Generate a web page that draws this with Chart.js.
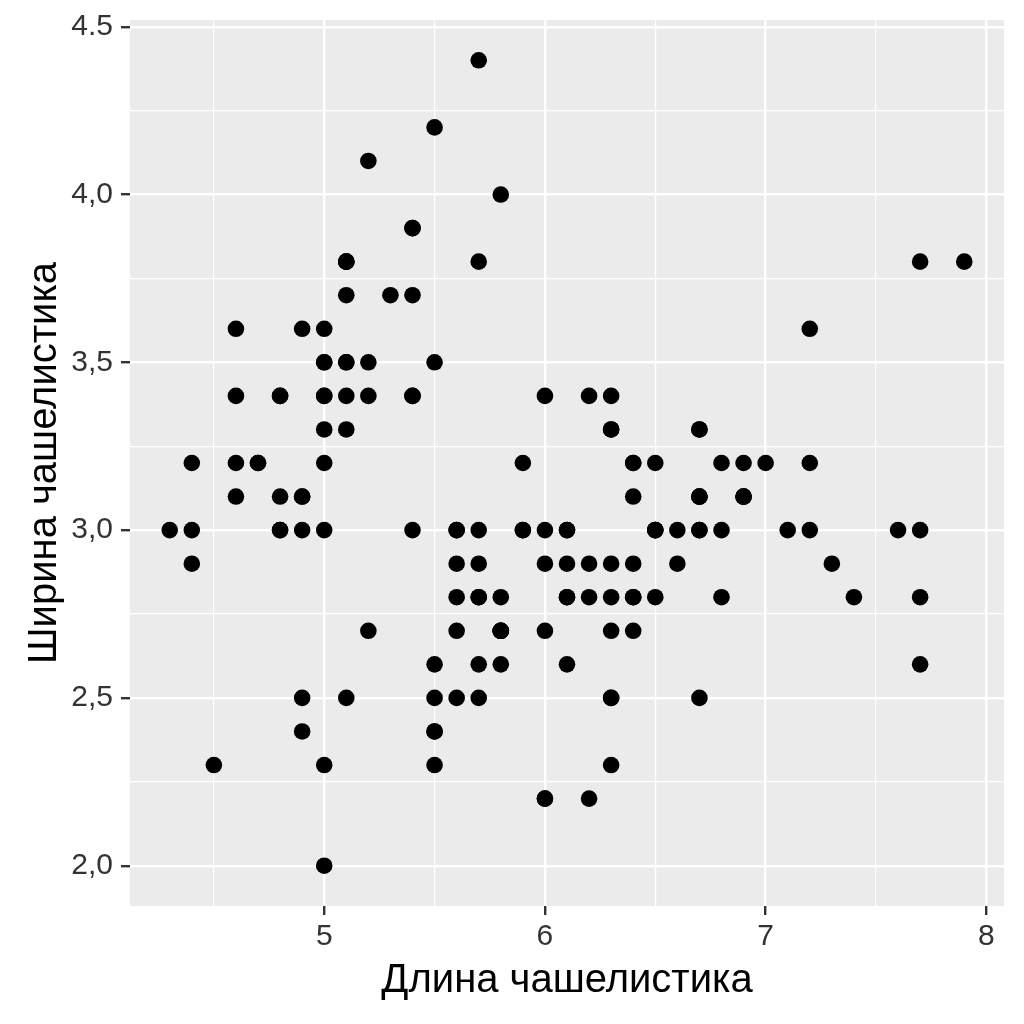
<!DOCTYPE html>
<html>
<head>
<meta charset="utf-8">
<script src="https://cdn.jsdelivr.net/npm/chart.js@4"></script>
<style>
  html, body { margin: 0; padding: 0; background: #fff; }
  #wrap { width: 1024px; height: 1024px; }
</style>
</head>
<body>
<div id="wrap"><canvas id="chart" width="1024" height="1024"></canvas></div>
<script>
// Sepal length / width (overlapping points drawn on top of each other)
const sepalLength = [
  5.1, 4.9, 4.7, 4.6, 5.0, 5.4, 4.6, 5.0, 4.4, 4.9, 5.4, 4.8, 4.8, 4.3, 5.8, 5.7, 5.4, 5.1, 5.7, 5.1,
  5.4, 5.1, 4.6, 5.1, 4.8, 5.0, 5.0, 5.2, 5.2, 4.7, 4.8, 5.4, 5.2, 5.5, 4.9, 5.0, 5.5, 4.9, 4.4, 5.1,
  5.0, 4.5, 4.4, 5.0, 5.1, 4.8, 5.1, 4.6, 5.3, 5.0,
  7.0, 6.4, 6.9, 5.5, 6.5, 5.7, 6.3, 4.9, 6.6, 5.2, 5.0, 5.9, 6.0, 6.1, 5.6, 6.7, 5.6, 5.8, 6.2, 5.6,
  5.9, 6.1, 6.3, 6.1, 6.4, 6.6, 6.8, 6.7, 6.0, 5.7, 5.5, 5.5, 5.8, 6.0, 5.4, 6.0, 6.7, 6.3, 5.6, 5.5,
  5.5, 6.1, 5.8, 5.0, 5.6, 5.7, 5.7, 6.2, 5.1, 5.7,
  6.3, 5.8, 7.1, 6.3, 6.5, 7.6, 4.9, 7.3, 6.7, 7.2, 6.5, 6.4, 6.8, 5.7, 5.8, 6.4, 6.5, 7.7, 7.7, 6.0,
  6.9, 5.6, 7.7, 6.3, 6.7, 7.2, 6.2, 6.1, 6.4, 7.2, 7.4, 7.9, 6.4, 6.3, 6.1, 7.7, 6.3, 6.4, 6.0, 6.9,
  6.7, 6.9, 5.8, 6.8, 6.7, 6.7, 6.3, 6.5, 6.2, 5.9
];
const sepalWidth = [
  3.5, 3.0, 3.2, 3.1, 3.6, 3.9, 3.4, 3.4, 2.9, 3.1, 3.7, 3.4, 3.0, 3.0, 4.0, 4.4, 3.9, 3.5, 3.8, 3.8,
  3.4, 3.7, 3.6, 3.3, 3.4, 3.0, 3.4, 3.5, 3.4, 3.2, 3.1, 3.4, 4.1, 4.2, 3.1, 3.2, 3.5, 3.6, 3.0, 3.4,
  3.5, 2.3, 3.2, 3.5, 3.8, 3.0, 3.8, 3.2, 3.7, 3.3,
  3.2, 3.2, 3.1, 2.3, 2.8, 2.8, 3.3, 2.4, 2.9, 2.7, 2.0, 3.0, 2.2, 2.9, 2.9, 3.1, 3.0, 2.7, 2.2, 2.5,
  3.2, 2.8, 2.5, 2.8, 2.9, 3.0, 2.8, 3.0, 2.9, 2.6, 2.4, 2.4, 2.7, 2.7, 3.0, 3.4, 3.1, 2.3, 3.0, 2.5,
  2.6, 3.0, 2.6, 2.3, 2.7, 3.0, 2.9, 2.9, 2.5, 2.8,
  3.3, 2.7, 3.0, 2.9, 3.0, 3.0, 2.5, 2.9, 2.5, 3.6, 3.2, 2.7, 3.0, 2.5, 2.8, 3.2, 3.0, 3.8, 2.6, 2.2,
  3.2, 2.8, 2.8, 2.7, 3.3, 3.2, 2.8, 3.0, 2.8, 3.0, 2.8, 3.8, 2.8, 2.8, 2.6, 3.0, 3.4, 3.1, 3.0, 3.1,
  3.1, 3.1, 2.7, 3.2, 3.3, 3.0, 2.5, 3.0, 3.4, 3.0
];

// Axis ticks (major gets a label, minor is just a thin grid line)
const xMajorTicks = [5, 6, 7, 8];
const xMajorLabels = ['5', '6', '7', '8'];
const xMinorTicks = [4.5, 5.5, 6.5, 7.5];
const yMajorTicks = [2.0, 2.5, 3.0, 3.5, 4.0, 4.5];
const yMajorLabels = ['2,0', '2,5', '3,0', '3,5', '4,0', '4.5'];
const yMinorTicks = [2.25, 2.75, 3.25, 3.75, 4.25];

const xTitle = 'Длина чашелистика';
const yTitle = 'Ширина чашелистика';

const points = sepalLength.map((x, i) => ({ x: x, y: sepalWidth[i] }));

const isMajor = (list, v) => list.some(t => Math.abs(t - v) < 1e-6);

// Grey ggplot-style panel behind the grid
const panelBackground = {
    id: 'panelBackground',
    beforeDraw(chart) {
        const { ctx, chartArea } = chart;
        ctx.save();
        ctx.fillStyle = '#EBEBEB';
        ctx.fillRect(chartArea.left, chartArea.top, chartArea.right - chartArea.left, chartArea.bottom - chartArea.top);
        ctx.restore();
    }
};

function axisOptions(majors, labels, minors, min, max, title, isX) {
    return {
        type: 'linear',
        min: min,
        max: max,
        afterBuildTicks(scale) {
            scale.ticks = majors.concat(minors).sort((a, b) => a - b).map(v => ({ value: v }));
        },
        afterFit(scale) {
            // fixed axis sizes, and no extra room reserved for the end labels
            if (isX) {
                scale.height = 118;
                scale.paddingLeft = 0;
                scale.paddingRight = 0;
            } else {
                scale.width = 130;
                scale.paddingTop = 0;
                scale.paddingBottom = 0;
            }
        },
        border: { display: false },
        grid: {
            color: '#FFFFFF',
            lineWidth: ctx => isMajor(majors, ctx.tick.value) ? 2.4 : 1.2,
            drawTicks: true,
            tickLength: 9,
            tickWidth: 2.4,
            tickColor: ctx => isMajor(majors, ctx.tick.value) ? '#333333' : 'rgba(0,0,0,0)'
        },
        ticks: {
            autoSkip: false,
            maxRotation: 0,
            padding: isX ? 4 : 8,
            color: '#333333',
            font: { family: '"Liberation Sans", Arial, sans-serif', size: 30 },
            callback: function (value) {
                const i = majors.findIndex(t => Math.abs(t - value) < 1e-6);
                return i === -1 ? '' : labels[i];
            }
        },
        title: {
            display: true,
            text: title,
            color: '#000000',
            font: { family: '"Liberation Sans", Arial, sans-serif', size: 40 },
            padding: isX ? { top: 0, bottom: 19 } : { top: 21, bottom: 0 }
        }
    };
}

const ctx = document.getElementById('chart').getContext('2d');
new Chart(ctx, {
    type: 'scatter',
    data: {
        datasets: [{
            data: points,
            backgroundColor: '#000000',
            borderWidth: 0,
            pointRadius: 8.3,
            pointHoverRadius: 8.3
        }]
    },
    options: {
        responsive: false,
        animation: false,
        devicePixelRatio: 1,
        layout: { padding: { left: 0, right: 20, top: 20, bottom: 0 } },
        plugins: {
            legend: { display: false },
            tooltip: { enabled: false }
        },
        scales: {
            x: axisOptions(xMajorTicks, xMajorLabels, xMinorTicks, 4.12, 8.08, xTitle, true),
            y: axisOptions(yMajorTicks, yMajorLabels, yMinorTicks, 1.88, 4.52, yTitle, false)
        }
    },
    plugins: [panelBackground]
});
</script>
</body>
</html>
